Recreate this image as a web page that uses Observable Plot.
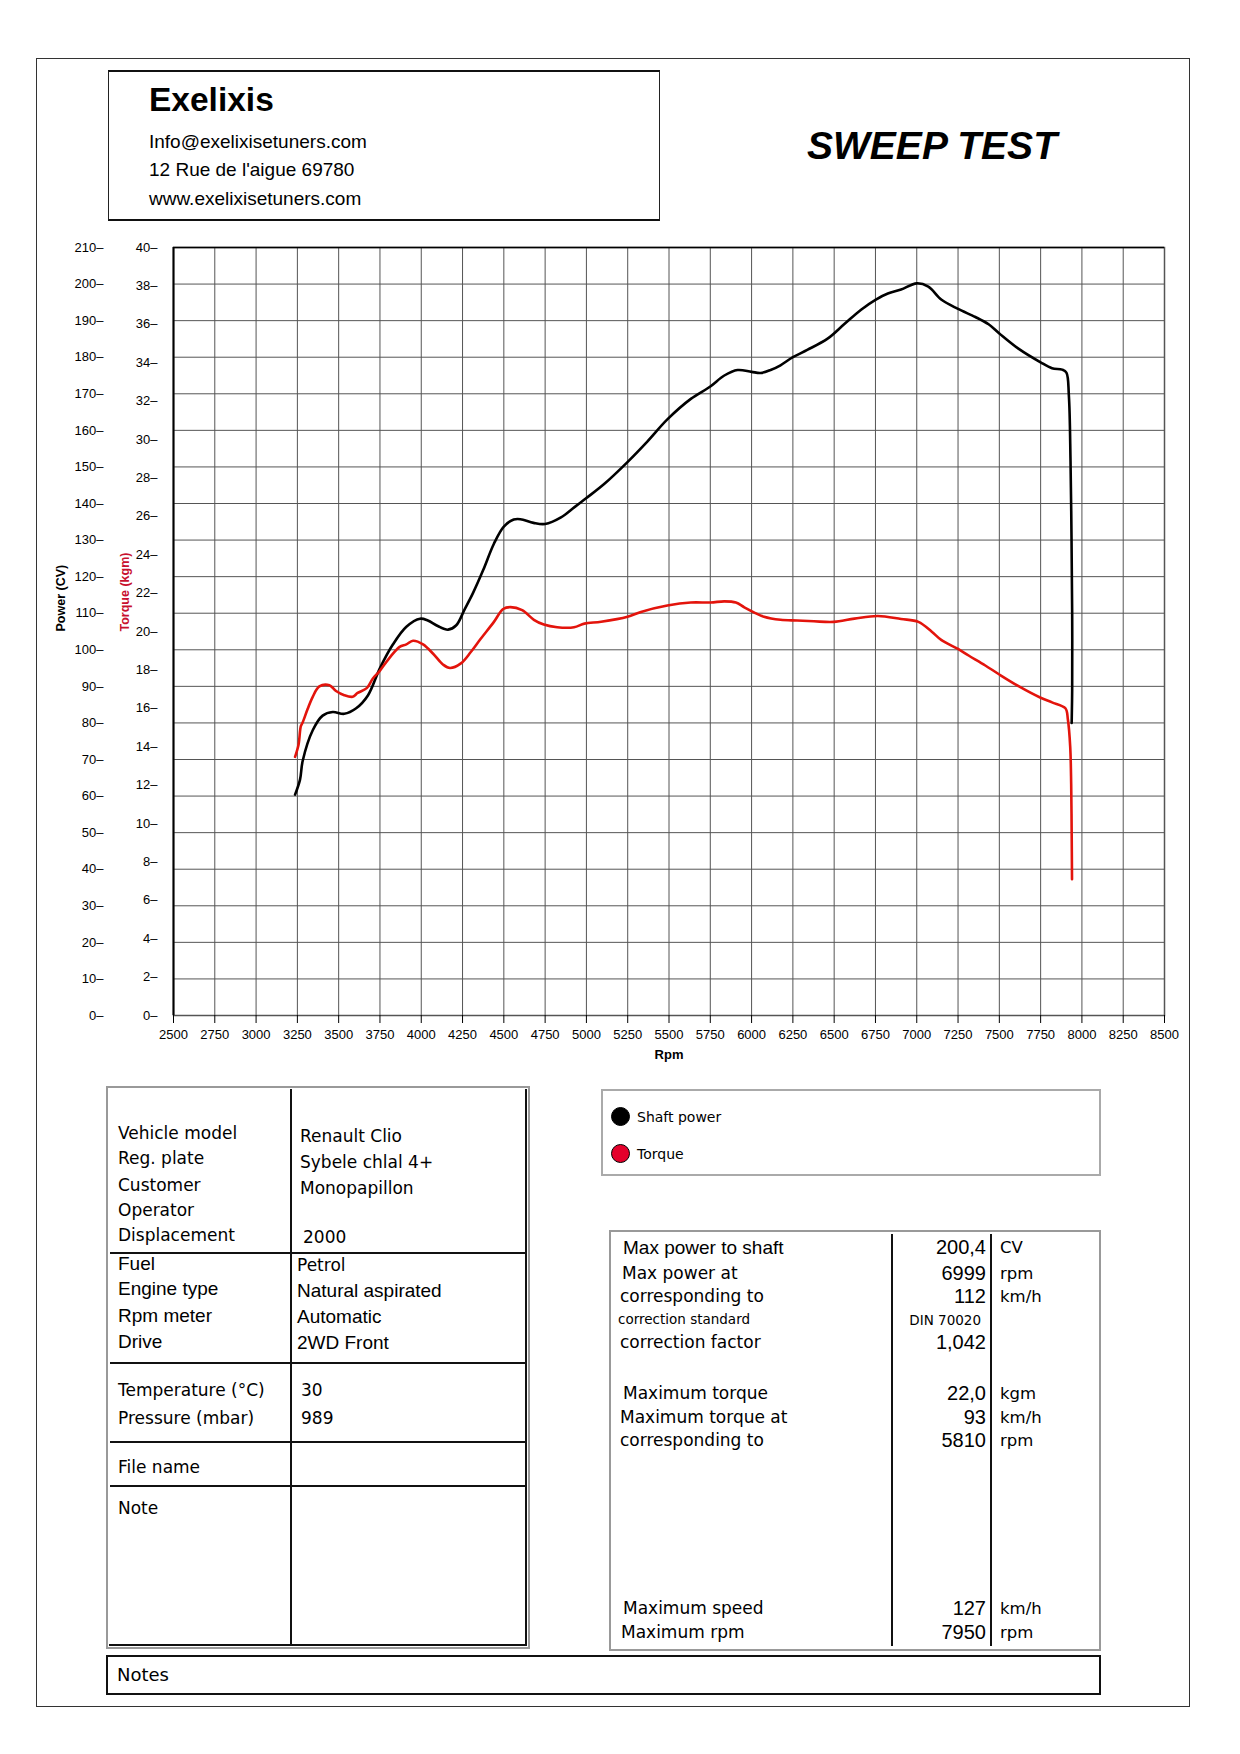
<!DOCTYPE html>
<html><head><meta charset="utf-8">
<script src="https://cdn.jsdelivr.net/npm/d3@7"></script>
<script src="https://cdn.jsdelivr.net/npm/@observablehq/plot@0.6"></script>
<style>
body{margin:0;background:#fff;}
#page{position:relative;width:1240px;height:1754px;overflow:hidden;font-family:"DejaVu Sans",sans-serif;color:#000;background:#fff;}
.t{position:absolute;white-space:nowrap;line-height:1;transform:translateY(-50%);}
.tr{transform:translate(-100%,-50%);}
.tc{transform:translate(-50%,-50%);}
.box{position:absolute;box-sizing:border-box;}
.chart{position:absolute;left:0;top:225px;}
</style></head><body><div id="page"></div>
<script>
// ---------- chart data ----------
const rpmTicks = d3.range(2500, 8501, 250);
const powerTicks = d3.range(0, 211, 10);
const torqueTicks = d3.range(0, 41, 2);

const powerRpm = [3236,3266,3282,3343,3403,3464,3534,3606,3677,3750,3829,3910,3993,4040,4100,4162,4212,4262,4313,4375,4440,4500,4560,4600,4680,4750,4846,4928,5000,5109,5250,5370,5490,5632,5750,5835,5915,6000,6055,6115,6175,6250,6337,6458,6560,6663,6750,6825,6905,7000,7070,7150,7250,7355,7435,7500,7620,7750,7819,7880,7906,7921,7931,7937,7941,7941,7938];
const powerCV = [60.4,64.5,69.6,78,82,83,82.5,84,87.5,95,101.5,106.3,108.5,108,106.5,105.5,106.7,111,115.5,121.8,129,133.7,135.6,135.7,134.7,134.4,136.2,139,141.5,145.4,151.4,157,163,168.6,172,175,176.5,176,175.7,176.5,177.8,180,182,185,189,193,195.7,197.4,198.5,200.2,199.3,195.7,193.2,191,189,186.5,182.2,178.6,177,176.6,175.8,169.5,151.7,130.7,109.8,89,80];

const torqueRpm = [3236,3257,3271,3282,3312,3343,3383,3444,3484,3534,3585,3615,3670,3706,3748,3808,3869,3910,3950,4011,4072,4133,4174,4240,4300,4360,4440,4496,4540,4611,4682,4742,4823,4925,4988,5089,5249,5330,5490,5632,5752,5835,5905,5956,6014,6075,6175,6276,6377,6498,6623,6764,6905,7010,7091,7150,7250,7314,7415,7500,7619,7750,7819,7900,7915,7929,7935,7938,7940];
const torqueKgm = [13.47,14.1,15.07,15.26,15.96,16.6,17.14,17.2,16.9,16.68,16.6,16.8,17.05,17.54,17.94,18.63,19.2,19.33,19.52,19.33,18.84,18.27,18.1,18.34,18.93,19.62,20.5,21.17,21.27,21.11,20.61,20.36,20.22,20.22,20.41,20.51,20.77,21.02,21.35,21.51,21.51,21.57,21.51,21.26,21.0,20.77,20.61,20.57,20.53,20.5,20.67,20.81,20.65,20.5,19.99,19.55,19.09,18.75,18.23,17.76,17.14,16.55,16.31,16.0,15.42,14.02,12.04,9.5,7.1];

const seriesNames = ["Shaft power", "Torque"];

// ---------- report text ----------
const headerLines = ["Info@exelixisetuners.com", "12 Rue de l'aigue 69780", "www.exelixisetuners.com"];
const vehicleLabels = ["Vehicle model","Reg. plate","Customer","Operator","Displacement","Fuel","Engine type","Rpm meter","Drive","Temperature (°C)","Pressure (mbar)","File name","Note"];
const vehicleValues = ["Renault Clio","Sybele chlal 4+","Monopapillon","","2000","Petrol","Natural aspirated","Automatic","2WD Front","30","989","",""];
const resultLabels = ["Max power to shaft","Max power at","corresponding to","correction standard","correction factor","Maximum torque","Maximum torque at","corresponding to","Maximum speed","Maximum rpm"];
const resultValues = ["200,4","6999","112","DIN 70020","1,042","22,0","93","5810","127","7950"];
const resultUnits = ["CV","rpm","km/h","","","kgm","km/h","rpm","km/h","rpm"];

// ---------- layout ----------
const page = document.getElementById("page");
function box(x,y,w,h,style){const d=document.createElement("div");d.className="box";Object.assign(d.style,{left:x+"px",top:y+"px",width:w+"px",height:h+"px"},style||{});page.appendChild(d);return d;}
function txt(s,x,y,style,cls){const d=document.createElement("div");d.className="t"+(cls?" "+cls:"");d.textContent=s;Object.assign(d.style,{left:x+"px",top:y+"px"},style||{});page.appendChild(d);return d;}
const ARIAL = "'Liberation Sans', Arial, sans-serif";
const VERD = "'DejaVu Sans', Verdana, sans-serif";

box(36,58,1154,1649,{border:"1px solid #333"});
box(108,70,552,151,{borderLeft:"1px solid #222",borderRight:"1px solid #222",borderTop:"2px solid #111",borderBottom:"2px solid #111"});
txt("Exelixis",149,100,{fontFamily:ARIAL,fontWeight:"bold",fontSize:"33.5px"});
const headerY=[141,169,198];
headerLines.forEach((s,i)=>txt(s,149,headerY[i],{fontFamily:ARIAL,fontSize:"19px"}));
txt("SWEEP TEST",932,145,{fontFamily:ARIAL,fontWeight:"bold",fontStyle:"italic",fontSize:"39px"},"tc");

// ---------- charts ----------
const W=1240,H=850,ML=173,MR=76,MT=22,MB=60;
const powerData = powerRpm.map((r,i)=>({rpm:r, power:powerCV[i]}));
const torqueData = torqueRpm.map((r,i)=>({rpm:r, torque:torqueKgm[i]}));

const chartP = Plot.plot({
  width:W,height:H,marginLeft:ML,marginRight:MR,marginTop:MT,marginBottom:MB,
  x:{domain:[2500,8500]}, y:{domain:[0,210]},
  style:{fontFamily:ARIAL,fontSize:"13px",background:"transparent",color:"#000",overflow:"visible"},
  marks:[
    Plot.gridX(rpmTicks,{stroke:"#555",strokeOpacity:1,strokeWidth:1}),
    Plot.gridY(powerTicks,{stroke:"#555",strokeOpacity:1,strokeWidth:1}),
    Plot.frame({stroke:"#555",strokeWidth:1.5}),
    Plot.ruleX([2500],{stroke:"#000",strokeWidth:2}),
    Plot.ruleY([210],{stroke:"#000",strokeWidth:1.5}),
    Plot.axisX(rpmTicks,{tickSize:8,tickPadding:6,label:null,fontSize:13,tickFormat:d=>String(d)}),
    Plot.axisY(powerTicks,{tickSize:0,tickPadding:70,label:null,fontSize:13,tickFormat:d=>`${d}–`}),
    Plot.line(powerData,{x:"rpm",y:"power",stroke:"#000",strokeWidth:2.6,curve:"catmull-rom"}),
    Plot.text(["Rpm"],{frameAnchor:"bottom",dy:43,fontWeight:"bold",fontSize:13}),
    Plot.text(["Power (CV)"],{frameAnchor:"left",rotate:-90,dx:-113,fontWeight:"bold",fontSize:12.5})
  ]
});
const chartT = Plot.plot({
  width:W,height:H,marginLeft:ML,marginRight:MR,marginTop:MT,marginBottom:MB,
  x:{domain:[2500,8500],axis:null}, y:{domain:[0,40]},
  style:{fontFamily:ARIAL,fontSize:"13px",background:"transparent",color:"#000",overflow:"visible"},
  marks:[
    Plot.axisY(torqueTicks,{tickSize:0,tickPadding:16,label:null,fontSize:13,tickFormat:d=>`${d}–`}),
    Plot.line(torqueData,{x:"rpm",y:"torque",stroke:"#e3140c",strokeWidth:2.6,curve:"catmull-rom"}),
    Plot.text(["Torque (kgm)"],{frameAnchor:"left",rotate:-90,dx:-49,fontWeight:"bold",fontSize:12.5,fill:"#c8102e"})
  ]
});
for (const c of [chartP, chartT]) { const w=document.createElement("div"); w.className="chart"; w.appendChild(c); page.appendChild(w); }

// ---------- vehicle table ----------
box(106,1086,424,563,{border:"2px solid #999"});
const line="#111";
box(290,1089,2,557,{background:line});
box(525,1089,2,557,{background:line});
box(109,1644,418,2,{background:line});
[1252,1362,1441,1485].forEach(y=>box(110,y,417,2,{background:line}));
const vLabY=[1133,1158,1185,1210,1235,1263,1288,1315,1341,1390,1418,1467,1508];
const vValY=[1136,1162,1188,1210,1237,1265,1290,1316,1342,1390,1418,1467,1508];
const vValX=[300,300,300,300,303,297,297,297,297,301,301,301,301];
const arialRows = new Set([5,6,7,8]);
const arialVals = new Set([6,7,8]);
vehicleLabels.forEach((s,i)=>txt(s,118,vLabY[i],arialRows.has(i)?{fontFamily:ARIAL,fontSize:"19px"}:{fontFamily:VERD,fontSize:"17px"}));
vehicleValues.forEach((s,i)=>{ if(s) txt(s,vValX[i],vValY[i],arialVals.has(i)?{fontFamily:ARIAL,fontSize:"19px"}:{fontFamily:VERD,fontSize:"17px"}); });
box(106,1655,995,40,{border:"2px solid #111"});
txt("Notes",117,1675,{fontFamily:VERD,fontSize:"18px"});

// ---------- legend ----------
box(601,1089,500,87,{border:"2px solid #aaa"});
const legColors=["#000","#e4002b"];
const legY=[1116,1153];
seriesNames.forEach((s,i)=>{
  box(611,legY[i]-9,19,19,{borderRadius:"50%",background:legColors[i],border:"1.5px solid #000"});
  txt(s,637,legY[i]+1,{fontFamily:VERD,fontSize:"14px"});
});

// ---------- results table ----------
box(609,1230,492,421,{border:"2px solid #999"});
box(891,1234,2,412,{background:line});
box(990,1234,2,412,{background:line});
const rY=[1247,1273,1296,1320,1342,1393,1417,1440,1608,1632];
const rX=[623,622,620,618,620,623,620,620,623,621];
resultLabels.forEach((s,i)=>{
  const st = i===0?{fontFamily:ARIAL,fontSize:"19px"}:(i===3?{fontFamily:VERD,fontSize:"13.5px"}:{fontFamily:VERD,fontSize:"17px"});
  txt(s,rX[i],rY[i],st);
});
resultValues.forEach((s,i)=>{
  const st = i===3?{fontFamily:VERD,fontSize:"13.5px"}:{fontFamily:ARIAL,fontSize:"20px"};
  txt(s,i===3?981:986,rY[i]+(i===3?1:0),st,"tr");
});
resultUnits.forEach((s,i)=>{ if(s) txt(s,1000,rY[i]+1,{fontFamily:VERD,fontSize:"16.5px"}); });
</script></body></html>
